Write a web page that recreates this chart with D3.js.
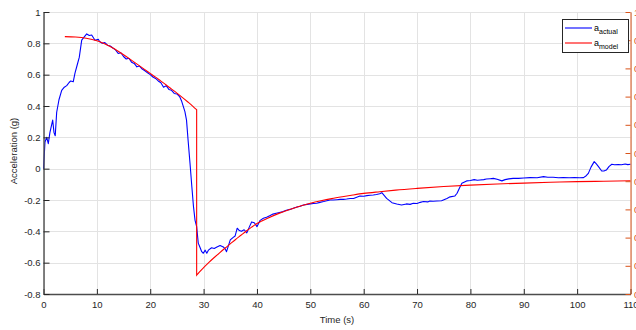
<!DOCTYPE html>
<html>
<head>
<meta charset="utf-8">
<script src="https://cdn.jsdelivr.net/npm/d3@7"></script>
<style>
  html, body { margin: 0; padding: 0; background: #fff; }
  svg { display: block; }
  text { font-family: "Liberation Sans", Arial, Helvetica, sans-serif; }
</style>
</head>
<body>
<svg id="chart" width="636" height="330"></svg>
<script>
// Measured acceleration (time in s, acceleration in g)
const actualTime = [
  0, 0.28, 0.6, 0.9, 1.2, 1.72, 1.97, 2.2, 2.47, 2.9, 3.41, 3.9, 4.35, 4.8, 5.1, 5.58, 5.9, 6.3, 6.7, 7.16, 7.6,
  8.1, 8.58, 9.03, 9.65, 10.27, 10.5, 11, 11.5, 12, 12.5, 13, 13.5, 14, 14.5, 15, 15.5, 16, 16.5, 17, 17.5,
  18, 18.5, 19, 19.5, 20, 20.5, 21, 21.5, 22, 22.5, 23, 23.5, 24, 24.5, 25, 25.5, 25.9, 26.5, 26.8, 27.1,
  27.45, 27.8, 28.1, 28.4, 28.7, 29.0, 29.3, 29.65, 29.95, 30.3, 30.6, 30.9, 31.5, 32.0, 32.5, 33.1, 33.7,
  34.0, 34.3, 35.0, 35.5, 35.9, 36.3, 36.7, 37.1, 37.6, 38.1, 38.6, 39.0, 39.5, 40.0, 40.6, 41.2, 41.8,
  42.4, 43.0, 43.6, 44.2, 44.9, 45.5, 46.2, 46.8, 47.5, 48.1, 48.7, 49.4, 50.0, 50.6, 51.2, 51.8, 52.5,
  53.1, 53.7, 54.3, 55.0, 55.6, 56.2, 56.8, 57.5, 58.1, 58.7, 59.3, 60.0, 60.6, 61.2, 61.8, 62.4, 63.0,
  63.4, 64.3, 65.3, 66.2, 67.1, 68.0, 68.7, 69.3, 70.0, 70.6, 71.2, 72.0, 72.4, 73.0, 73.7, 74.6, 75.6,
  76.2, 77.1, 77.5, 78.0, 78.4, 79.3, 80.0, 80.7, 81.3, 81.8, 82.5, 83.0, 83.7, 84.3, 85.0, 85.9, 86.5,
  87.2, 88.0, 89.0, 90.0, 91.2, 92.5, 93.7, 94.5, 95.5, 96.5, 97.4, 98.5, 99.5, 100.5, 101.2, 101.7,
  102.1, 102.6, 103.2, 103.6, 104.0, 104.6, 105.1, 105.5, 106.0, 106.5, 107.0, 107.7, 108.3, 109.0,
  109.5, 110.0
];
const actualAccel = [
  0.0, 0.17, 0.2, 0.16, 0.23, 0.31, 0.23, 0.21, 0.36, 0.44, 0.5, 0.52, 0.53, 0.55, 0.56, 0.555, 0.61, 0.66, 0.71, 0.82, 0.84,
  0.86, 0.85, 0.853, 0.82, 0.826, 0.812, 0.8, 0.805, 0.788, 0.783, 0.77, 0.758, 0.735, 0.74, 0.716, 0.7, 0.705, 0.68, 0.672, 0.65,
  0.655, 0.636, 0.625, 0.612, 0.6, 0.585, 0.576, 0.56, 0.548, 0.52, 0.53, 0.505, 0.5, 0.48, 0.477, 0.46, 0.43, 0.364, 0.31, 0.18,
  0.036, -0.115, -0.24, -0.33, -0.37, -0.475, -0.5, -0.53, -0.54, -0.52, -0.54, -0.52, -0.505, -0.51, -0.5, -0.49, -0.5,
  -0.51, -0.53, -0.455, -0.44, -0.43, -0.38, -0.395, -0.4, -0.39, -0.41, -0.37, -0.34, -0.345, -0.37, -0.33, -0.317, -0.31,
  -0.3, -0.29, -0.285, -0.28, -0.274, -0.265, -0.26, -0.253, -0.245, -0.24, -0.232, -0.228, -0.225, -0.222, -0.221, -0.215, -0.21,
  -0.205, -0.2, -0.2, -0.198, -0.196, -0.196, -0.194, -0.19, -0.19, -0.182, -0.175, -0.176, -0.172, -0.17, -0.168, -0.165, -0.16,
  -0.153, -0.19, -0.217, -0.225, -0.232, -0.225, -0.228, -0.221, -0.222, -0.215, -0.21, -0.212, -0.206, -0.208, -0.206, -0.205, -0.19,
  -0.18, -0.174, -0.157, -0.12, -0.093, -0.078, -0.076, -0.07, -0.074, -0.072, -0.07, -0.066, -0.064, -0.062, -0.068, -0.078, -0.07,
  -0.065, -0.062, -0.062, -0.06, -0.057, -0.058, -0.051, -0.055, -0.055, -0.058, -0.057, -0.058, -0.056, -0.058, -0.057, -0.045,
  -0.03, 0.01, 0.045, 0.03, 0.013, -0.015, -0.014, -0.008, 0.015, 0.028, 0.025, 0.027, 0.025, 0.03,
  0.026, 0.028
];

// Model prediction; the repeated time marks the step change
const modelTime = [
  4, 6, 8, 10, 11, 12, 13, 14, 15, 16, 17, 18, 19, 20, 21, 22, 23, 24, 25, 26, 27, 28, 28.7,
  28.7, 29, 30, 31, 32, 33, 34, 35, 36, 37, 38, 39, 40, 41, 42, 44, 46, 48, 50, 52, 54, 56, 58, 60,
  63, 66, 70, 75, 80, 85, 90, 95, 100, 105, 110
];
const modelAccel = [
  0.843, 0.84, 0.832, 0.816, 0.803, 0.788, 0.77, 0.749, 0.727, 0.704, 0.68, 0.656, 0.632, 0.608, 0.584, 0.559, 0.534, 0.508, 0.482, 0.455, 0.427, 0.398, 0.376,
  -0.68, -0.668, -0.632, -0.598, -0.567, -0.537, -0.508, -0.48, -0.452, -0.425, -0.398, -0.373, -0.35, -0.332, -0.316, -0.287, -0.262, -0.24, -0.221, -0.205, -0.191, -0.179, -0.168, -0.158,
  -0.147, -0.137, -0.126, -0.114, -0.105, -0.098, -0.092, -0.087, -0.083, -0.08, -0.077
];

const xTicks = [0, 10, 20, 30, 40, 50, 60, 70, 80, 90, 100, 110];
const yTicks = [-0.8, -0.6, -0.4, -0.2, 0, 0.2, 0.4, 0.6, 0.8, 1];
const rightTicks = [0, 0.1, 0.2, 0.3, 0.4, 0.5, 0.6, 0.7, 0.8, 0.9, 1];

const svg = d3.select("#chart");
const plotLeft = 43.5, plotRight = 630.5, plotTop = 12, plotBottom = 294;
const axisColor = "#262626";
const rightColor = "#D95319";

const x = d3.scaleLinear().domain([0, 110]).range([plotLeft, plotRight]);
const y = d3.scaleLinear().domain([-0.8, 1]).range([plotBottom, plotTop]);
const yRight = d3.scaleLinear().domain([0, 1]).range([plotBottom, plotTop]);

// grid
const grid = svg.append("g").attr("stroke", "#e3e3e3").attr("stroke-width", 1);
grid.selectAll(".gx").data(xTicks).join("line")
  .attr("x1", d => Math.round(x(d)) + 0.5).attr("x2", d => Math.round(x(d)) + 0.5)
  .attr("y1", plotTop).attr("y2", plotBottom);
grid.selectAll(".gy").data(yTicks).join("line")
  .attr("x1", plotLeft).attr("x2", plotRight)
  .attr("y1", d => Math.round(y(d)) + 0.5).attr("y2", d => Math.round(y(d)) + 0.5);

// series
const lineActual = d3.line().x((d, i) => x(actualTime[i])).y(d => y(d));
svg.append("path")
  .attr("d", lineActual(actualAccel))
  .attr("fill", "none").attr("stroke", "#0000ff").attr("stroke-width", 1.1)
  .attr("stroke-linejoin", "round");

const modelPts = modelTime.map((t, i) => [t, modelAccel[i]]);
const breakIdx = modelPts.findIndex((p, i) => i > 0 && p[0] === modelPts[i - 1][0]);
const lineModel = d3.line().x(d => x(d[0])).y(d => y(d[1])).curve(d3.curveMonotoneX);
const dModel = lineModel(modelPts.slice(0, breakIdx)) +
  lineModel(modelPts.slice(breakIdx)).replace(/^M/, "L");
svg.append("path")
  .attr("d", dModel)
  .attr("fill", "none").attr("stroke", "#ff0000").attr("stroke-width", 1.1);

// axes
const fontSize = "9.5px";
const gx = svg.append("g").attr("transform", `translate(0,${plotBottom})`)
  .call(d3.axisBottom(x).tickValues(xTicks).tickFormat(d3.format("d")).tickSizeInner(-5).tickSizeOuter(0).tickPadding(7.5));
const gy = svg.append("g").attr("transform", `translate(${plotLeft},0)`)
  .call(d3.axisLeft(y).tickValues(yTicks).tickFormat(d => String(+d.toFixed(1))).tickSizeInner(-6).tickSizeOuter(0).tickPadding(3));
const gr = svg.append("g").attr("transform", `translate(${plotRight},0)`)
  .call(d3.axisRight(yRight).tickValues(rightTicks).tickFormat(d => String(+d.toFixed(1))).tickSizeInner(-5).tickSizeOuter(0).tickPadding(3.5));

[gx, gy].forEach(g => {
  g.selectAll("path, line").attr("stroke", axisColor);
  g.selectAll("text").attr("fill", axisColor).style("font-size", fontSize);
});
gy.select("path").attr("stroke", "#4d4d4d").attr("stroke-width", 1.4);
gx.select("path").attr("stroke", "#4d4d4d").attr("stroke-width", 1.4);
gr.selectAll("path, line").attr("stroke", rightColor);
gr.selectAll("text").attr("fill", rightColor).style("font-size", fontSize);

// axis titles
svg.append("text").attr("x", (plotLeft + plotRight) / 2).attr("y", 323)
  .attr("text-anchor", "middle").style("font-size", "9.5px").attr("fill", axisColor)
  .text("Time (s)");
svg.append("text").attr("transform", `translate(17,${(plotTop + plotBottom) / 2 - 2}) rotate(-90)`)
  .attr("text-anchor", "middle").style("font-size", "9.5px").attr("fill", axisColor)
  .text("Acceleration (g)");

// legend
const legend = svg.append("g");
legend.append("rect").attr("x", 562.5).attr("y", 19.5).attr("width", 66).attr("height", 33)
  .attr("fill", "#fff").attr("stroke", axisColor).attr("stroke-width", 1);
const entries = [
  { sub: "actual", color: "#0000ff", yy: 28 },
  { sub: "model", color: "#ff0000", yy: 43 }
];
entries.forEach(e => {
  legend.append("line").attr("x1", 565).attr("x2", 592).attr("y1", e.yy).attr("y2", e.yy)
    .attr("stroke", e.color).attr("stroke-width", 1.1);
  const t = legend.append("text").attr("x", 594).attr("y", e.yy + 2.5)
    .style("font-size", "9px").attr("fill", "#000");
  t.append("tspan").text("a");
  t.append("tspan").attr("dy", 3).style("font-size", "7px").text(e.sub);
});
</script>
</body>
</html>
